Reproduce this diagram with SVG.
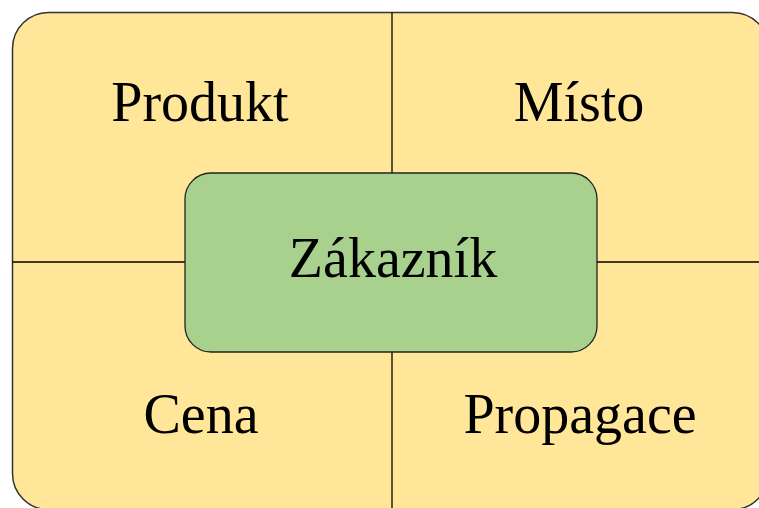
<svg xmlns="http://www.w3.org/2000/svg" width="759" height="508" viewBox="0 0 759 508">
<style>
.t{font-family:"Liberation Serif","Times New Roman",serif;font-size:56px;fill:#000;text-anchor:middle}
.ln{stroke:#000;stroke-width:1.3;fill:none}
</style>
<rect width="759" height="508" fill="#fff"/>
<g id="quadrants">
<rect x="12.5" y="12.5" width="756" height="497" rx="36" ry="36" fill="#FFE699" stroke="#333" stroke-width="1.5"/>
</g>
<g id="connectors">
<line class="ln" x1="392" y1="12.5" x2="392" y2="173"/>
<line class="ln" x1="392" y1="352" x2="392" y2="508"/>
<line class="ln" x1="12.5" y1="262" x2="185" y2="262"/>
<line class="ln" x1="597" y1="262" x2="759" y2="262"/>
</g>
<g id="produkt"><text class="t" x="200" y="121">Produkt</text></g>
<g id="misto"><text class="t" x="579" y="121">Místo</text></g>
<g id="cena"><text class="t" x="201" y="433">Cena</text></g>
<g id="propagace"><text class="t" x="580" y="433">Propagace</text></g>
<g id="zakaznik">
<rect x="185" y="173" width="412" height="179" rx="26" ry="26" fill="#A9D18E" stroke="#222" stroke-width="1.3"/>
<text class="t" x="393" y="277">Zákazník</text>
</g>
</svg>
